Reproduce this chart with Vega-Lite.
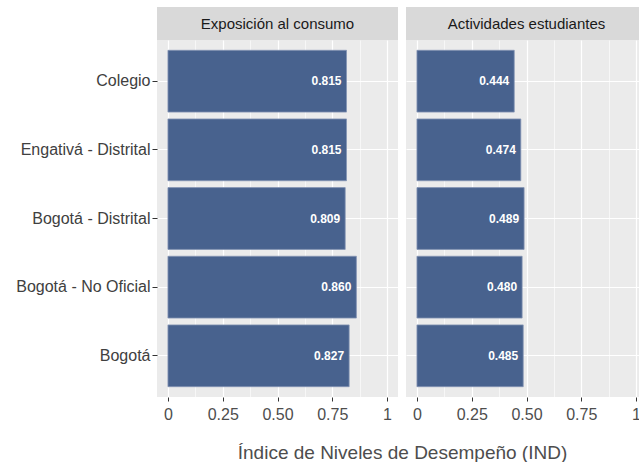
{
  "$schema": "https://vega.github.io/schema/vega-lite/v6.json",
  "padding": {"left": 15, "top": 7, "right": 0, "bottom": 0},
  "background": "white",
  "bounds": "flush",
  "columns": 2,
  "spacing": {"row": 0, "column": 8},
  "config": {
    "font": "Liberation Sans",
    "view": {"stroke": null},
    "axis": {"gridColor": "white", "domain": false}
  },
  "datasets": {
    "ind": [
      {"panel": "Exposición al consumo", "grupo": "Colegio", "valor": 0.815},
      {"panel": "Exposición al consumo", "grupo": "Engativá - Distrital", "valor": 0.815},
      {"panel": "Exposición al consumo", "grupo": "Bogotá - Distrital", "valor": 0.809},
      {"panel": "Exposición al consumo", "grupo": "Bogotá - No Oficial", "valor": 0.860},
      {"panel": "Exposición al consumo", "grupo": "Bogotá", "valor": 0.827},
      {"panel": "Actividades estudiantes", "grupo": "Colegio", "valor": 0.444},
      {"panel": "Actividades estudiantes", "grupo": "Engativá - Distrital", "valor": 0.474},
      {"panel": "Actividades estudiantes", "grupo": "Bogotá - Distrital", "valor": 0.489},
      {"panel": "Actividades estudiantes", "grupo": "Bogotá - No Oficial", "valor": 0.480},
      {"panel": "Actividades estudiantes", "grupo": "Bogotá", "valor": 0.485}
    ],
    "paneles": [
      {"panel": "Exposición al consumo"},
      {"panel": "Actividades estudiantes"}
    ]
  },
  "concat": [
    {
      "width": 241, "height": 33,
      "view": {"fill": "#D9D9D9", "stroke": null},
      "data": {"name": "paneles"},
      "transform": [{"filter": "datum.panel === 'Exposición al consumo'"}],
      "mark": {"type": "text", "fontSize": 15, "color": "#1A1A1A", "baseline": "middle"},
      "encoding": {"text": {"field": "panel"}}
    },
    {
      "width": 241, "height": 33,
      "view": {"fill": "#D9D9D9", "stroke": null},
      "data": {"name": "paneles"},
      "transform": [{"filter": "datum.panel === 'Actividades estudiantes'"}],
      "mark": {"type": "text", "fontSize": 15, "color": "#1A1A1A", "baseline": "middle"},
      "encoding": {"text": {"field": "panel"}}
    },
    {
      "width": 241, "height": 357,
      "view": {"fill": "#EBEBEB", "stroke": null},
      "data": {"name": "ind"},
      "transform": [{"filter": "datum.panel === 'Exposición al consumo'"}],
      "resolve": {"axis": {"x": "independent"}},
      "encoding": {
        "y": {
          "field": "grupo", "type": "nominal",
          "sort": ["Colegio", "Engativá - Distrital", "Bogotá - Distrital", "Bogotá - No Oficial", "Bogotá"],
          "scale": {"paddingInner": 0.1, "paddingOuter": 0.15},
          "axis": {"title": null, "grid": true, "gridWidth": 1.2, "gridColor": "white", "tickColor": "#333333", "tickSize": 5, "tickWidth": 1, "labelFontSize": 16, "labelColor": "#404040", "labelPadding": 2, "domain": false}
        }
      },
      "layer": [
        {
          "mark": {"type": "bar", "fill": "#48628E", "stroke": "#8494B4", "strokeWidth": 0.8},
          "encoding": {
            "x": {
              "field": "valor", "type": "quantitative",
              "scale": {"domain": [-0.05, 1.05], "nice": false, "zero": false},
              "axis": {
                "title": "Índice de Niveles de Desempeño (IND)",
                "titleFontSize": 19, "titleFontWeight": "normal", "titleColor": "#4D4D4D",
                "titleAnchor": null, "titleX": 245, "titleAlign": "center", "titlePadding": 21,
                "values": [0, 0.25, 0.5, 0.75, 1],
                "labelExpr": "datum.value == 0 ? '0' : datum.value == 1 ? '1' : format(datum.value, '.2f')",
                "labelFontSize": 16, "labelColor": "#4D4D4D", "labelPadding": 5,
                "tickColor": "#333333", "tickSize": 4, "grid": true, "gridWidth": 1.2, "domain": false
              }
            }
          }
        },
        {
          "mark": {"type": "text", "align": "right", "baseline": "middle", "dx": -5, "fontSize": 12, "fontWeight": "bold", "color": "white"},
          "encoding": {
            "x": {
              "field": "valor", "type": "quantitative",
              "axis": {"orient": "top", "values": [0.125, 0.375, 0.625, 0.875], "labels": false, "ticks": false, "domain": false, "title": null, "grid": true, "gridWidth": 0.6}
            },
            "text": {"field": "valor", "type": "quantitative", "format": ".3f"}
          }
        }
      ]
    },
    {
      "width": 241, "height": 357,
      "view": {"fill": "#EBEBEB", "stroke": null},
      "data": {"name": "ind"},
      "transform": [{"filter": "datum.panel === 'Actividades estudiantes'"}],
      "resolve": {"axis": {"x": "independent"}},
      "encoding": {
        "y": {
          "field": "grupo", "type": "nominal",
          "sort": ["Colegio", "Engativá - Distrital", "Bogotá - Distrital", "Bogotá - No Oficial", "Bogotá"],
          "scale": {"paddingInner": 0.1, "paddingOuter": 0.15},
          "axis": {"title": null, "grid": true, "gridWidth": 1.2, "gridColor": "white", "labels": false, "ticks": false, "domain": false}
        }
      },
      "layer": [
        {
          "mark": {"type": "bar", "fill": "#48628E", "stroke": "#8494B4", "strokeWidth": 0.8},
          "encoding": {
            "x": {
              "field": "valor", "type": "quantitative",
              "scale": {"domain": [-0.05, 1.05], "nice": false, "zero": false},
              "axis": {
                "title": null,
                "values": [0, 0.25, 0.5, 0.75, 1],
                "labelExpr": "datum.value == 0 ? '0' : datum.value == 1 ? '1' : format(datum.value, '.2f')",
                "labelFontSize": 16, "labelColor": "#4D4D4D", "labelPadding": 5,
                "tickColor": "#333333", "tickSize": 4, "grid": true, "gridWidth": 1.2, "domain": false
              }
            }
          }
        },
        {
          "mark": {"type": "text", "align": "right", "baseline": "middle", "dx": -5, "fontSize": 12, "fontWeight": "bold", "color": "white"},
          "encoding": {
            "x": {
              "field": "valor", "type": "quantitative",
              "axis": {"orient": "top", "values": [0.125, 0.375, 0.625, 0.875], "labels": false, "ticks": false, "domain": false, "title": null, "grid": true, "gridWidth": 0.6}
            },
            "text": {"field": "valor", "type": "quantitative", "format": ".3f"}
          }
        }
      ]
    }
  ]
}
